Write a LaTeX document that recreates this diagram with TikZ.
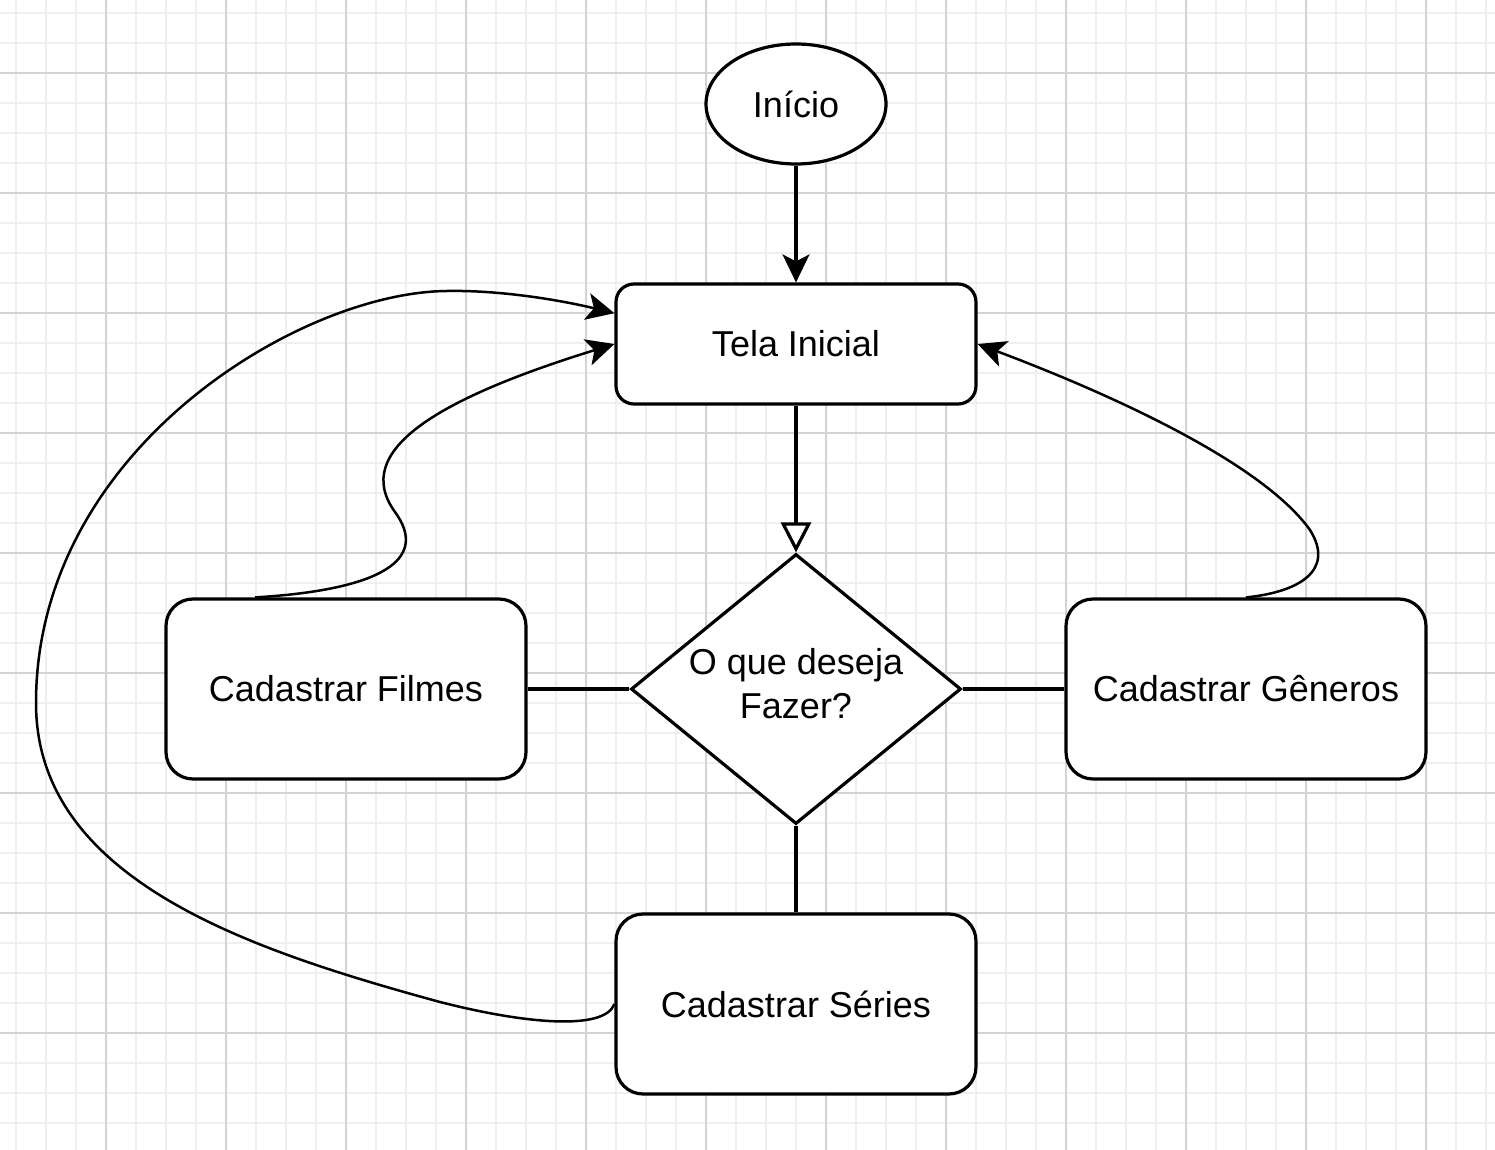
\documentclass[tikz,border=0pt]{standalone}
\usepackage{fontspec}
\setmainfont{Liberation Sans}
\usetikzlibrary{arrows.meta,shapes.geometric,calc}
\definecolor{gminor}{HTML}{EFEFEF}
\definecolor{gmajor}{HTML}{D3D3D3}
\begin{document}
\begin{tikzpicture}[x=0.5pt,y=-0.5pt,
  every node/.style={font=\fontsize{18}{22}\selectfont},
  minorline/.style={draw=gminor,line width=0.7pt},
  majorline/.style={draw=gmajor,line width=0.6pt},
  box/.style={draw=black,fill=white,line width=1.6pt,rectangle,inner sep=0pt},
  smallbox/.style={box,minimum width=180pt,minimum height=60pt,rounded corners=9pt},
  bigbox/.style={box,minimum width=180pt,minimum height=90pt,rounded corners=13.5pt},
  startnode/.style={draw=black,fill=white,line width=1.6pt,ellipse,minimum width=90pt,minimum height=60pt,inner sep=0pt},
  decision/.style={draw=black,fill=white,line width=1.6pt,diamond,aspect=1.22,minimum width=165pt,minimum height=135pt,inner sep=0pt},
  textonly/.style={align=center,inner sep=0pt},
  conn/.style={line width=1.6pt},
  arr/.style={conn,-{Stealth[length=14pt,width=13.5pt,inset=3.5pt]}},
  openarr/.style={conn,-{Triangle[length=15pt,width=15pt,fill=white]}},
  curve/.style={line width=1.25pt,-{Stealth[length=14pt,width=13.5pt,inset=3.5pt]}}
]
\useasboundingbox (0,0) rectangle (1495,1150);
\fill[white] (0,0) rectangle (1495,1150);
% grid
\foreach \x in {16,46,...,1486} \draw[minorline] (\x,0) -- (\x,1150);
\foreach \y in {13,43,...,1143} \draw[minorline] (0,\y) -- (1495,\y);
\foreach \x in {106,226,...,1426} \draw[majorline] (\x,0) -- (\x,1150);
\foreach \y in {73,193,...,1033} \draw[majorline] (0,\y) -- (1495,\y);

% nodes
\node[startnode] (inicio) at (796,104) {Início};
\node[smallbox] (tela) at (796,344) {Tela Inicial};
\node[decision] (decisao) at (796,689) {};
\node[textonly] (decisaotxt) at (796,684) {O que deseja\\Fazer?};
\node[bigbox] (filmes) at (346,689) {Cadastrar Filmes};
\node[bigbox] (generos) at (1246,689) {Cadastrar Gêneros};
\node[bigbox] (series) at (796,1004) {Cadastrar Séries};

% straight connectors
\draw[arr] (inicio.south) -- (tela.north);
\draw[openarr] (tela.south) -- (decisao.north);
\draw[conn] (filmes.east) -- (decisao.west);
\draw[conn] (decisao.east) -- (generos.west);
\draw[conn] (decisao.south) -- (series.north);

% curved connectors
\coordinate (fstart) at ($(filmes.north west)!0.25!(filmes.north east)$);
\coordinate (ttop) at ($(tela.north west)!0.25!(tela.south west)$);

\draw[curve] (fstart) .. controls (380,590) and (430,560) .. (395,512)
  .. controls (350,450) and (440,398) .. (tela.west);

\draw[curve] (generos.north) .. controls (1300,592) and (1335,570) .. (1310,530)
  .. controls (1260,460) and (1100,390) .. (tela.east);

\draw[curve] (series.west) .. controls (605,1030) and (530,1025) .. (440,1002)
  .. controls (250,950) and (36,880) .. (36,703)
  .. controls (36,450) and (300,292) .. (447,291)
  .. controls (500,290) and (560,300) .. (ttop);
\end{tikzpicture}
\end{document}
